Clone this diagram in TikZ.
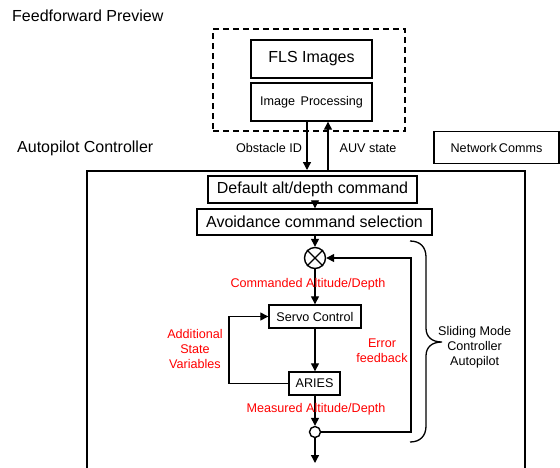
\documentclass[tikz,border=0pt]{standalone}
\usepackage{fontspec}
\setmainfont{Liberation Sans}
\usetikzlibrary{arrows.meta,calc}
\begin{document}
\begin{tikzpicture}[x=1pt,y=-1pt,
  big/.style={font=\fontsize{16}{19}\selectfont},
  small/.style={font=\fontsize{12.6}{15}\selectfont},
  redlbl/.style={small,text=red,align=center,inner sep=0pt},
  lbl/.style={small,align=center,inner sep=0pt},
  blockbox/.style={draw,line width=1.4pt,inner sep=0pt},
  arr/.style={line width=1.3pt,-{Triangle[length=8pt,width=8pt]}},
  ln/.style={line width=1.3pt}]
\useasboundingbox (0,0) rectangle (560,467);
% titles
\node[big,anchor=base west,inner sep=0pt] (fftitle) at (12,21) {Feedforward Preview};
\node[big,anchor=base west,inner sep=0pt] (aptitle) at (17,152) {Autopilot Controller};
% feedforward dashed region
\node[draw,dash pattern=on 6pt off 4pt,line width=1.3pt,minimum width=192pt,minimum height=102pt,inner sep=0pt] (ff) at (309,80) {};
\node[blockbox,big,minimum width=121pt,minimum height=38pt] (fls) at (311.5,59) {FLS Images};
\node[blockbox,small,minimum width=121pt,minimum height=38pt] (img) at (311.5,102) {Image\, Processing};
% network comms
\node[blockbox,small,minimum width=125pt,minimum height=32pt] (net) at (496.5,147.5) {Network\,Comms};
% autopilot frame
\draw[line width=1.4pt] (87,480) -- (87,171) -- (525,171) -- (525,480);
\coordinate (obsEnd) at (307,170);
\coordinate (auvStart) at (328,171);
\draw[arr] (obsEnd |- img.south) -- (obsEnd);
\draw[arr] (auvStart) -- (auvStart |- img.south);
\node[lbl,anchor=base] (obsl) at (269,152) {Obstacle ID};
\node[lbl,anchor=base] (auvl) at (368,152) {AUV state};
% inner blocks
\node[blockbox,line width=1.8pt,big,minimum width=209pt,minimum height=27pt] (def) at (312.5,189.5) {Default alt/depth command};
\node[blockbox,big,minimum width=235pt,minimum height=26pt] (avd) at (314.5,222) {Avoidance command selection};
\node[draw,circle,line width=1.4pt,minimum size=21pt,inner sep=0pt] (sum) at (315,258) {};
\draw[line width=1.2pt] (sum.north west) -- (sum.south east) (sum.north east) -- (sum.south west);
\node[blockbox,small,minimum width=92pt,minimum height=23pt] (servo) at (315,316.5) {Servo Control};
\node[blockbox,small,minimum width=51pt,minimum height=23pt] (aries) at (314.5,383.5) {ARIES};
\node[draw,circle,line width=1.4pt,minimum size=11pt,inner sep=0pt] (join) at (315,432) {};
\coordinate (outEnd) at (315,463);
% connectors
\draw[arr] (sum |- def.south) -- (sum |- avd.north);
\draw[arr] (sum |- avd.south) -- (sum.north);
\draw[arr] (sum.south) -- (servo.north);
\draw[arr] (servo.south) -- (servo.south |- aries.north);
\coordinate (addl) at (229,383.5);
\draw[arr] (aries.west) -- (addl) -- (addl |- servo.west) -- (servo.west);
\draw[arr] (join |- aries.south) -- (join.north);
\coordinate (errc) at (411,432);
\draw[arr] (join.east) -- (errc) -- (errc |- sum.east) -- (sum.east);
\draw[arr] (join.south) -- (outEnd);
% labels
\node[redlbl] (cmdl) at (308,284) {Commanded Altitude/Depth};
\node[redlbl] (addlbl) at (195,349) {Additional\\State\\Variables};
\node[redlbl] (errl) at (382,351) {Error\\feedback};
\node[redlbl] (measl) at (316,409) {Measured Altitude/Depth};
% brace
\draw[line width=1.3pt] (410,241) .. controls (420,241) and (426,247) .. (426,257)
  -- (426,328) .. controls (426,337) and (432,342) .. (442,342)
  .. controls (432,342) and (426,347) .. (426,356)
  -- (426,426) .. controls (426,436) and (420,442) .. (410,442);
\node[lbl,anchor=west] (slid) at (438,347) {Sliding Mode\\Controller\\Autopilot};
\end{tikzpicture}
\end{document}
